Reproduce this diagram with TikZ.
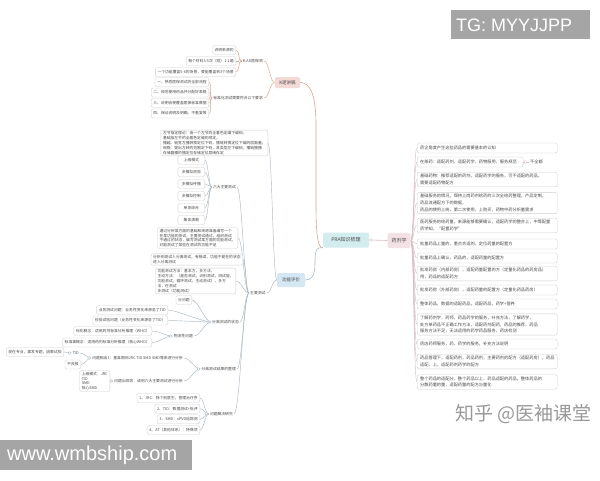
\documentclass[tikz,border=0pt]{standalone}
\usepackage{fontspec}
\setmainfont{Noto Sans CJK SC}
\newfontfamily\wmfont{Liberation Sans}
\usetikzlibrary{backgrounds}
\definecolor{txtc}{HTML}{4A4A4A}
\definecolor{leafc}{HTML}{CFCFCF}
\definecolor{kline}{HTML}{D7A78C}
\definecolor{gline}{HTML}{A9BAC6}
\definecolor{yline}{HTML}{D9BFC3}
\definecolor{kfill}{HTML}{F4DAD6}
\definecolor{gfill}{HTML}{D4E7F3}
\definecolor{pfill}{HTML}{D3ECEE}
\definecolor{yfill}{HTML}{F3E1E5}
\definecolor{wmgray}{HTML}{A5A5A5}
\definecolor{zhc}{HTML}{999999}
\newcommand\fsL{\fontsize{3.8}{4.8}\selectfont}
\newcommand\fsR{\fontsize{4.2}{6.6}\selectfont}
\newcommand\fsM{\fontsize{5}{6}\selectfont}
\newcommand\fsK{\fontsize{4.5}{5.5}\selectfont}
\newcommand\Lk[4][4]{\draw[#2] (#3) .. controls +(-#1,0) and +(#1,0) .. (#4);}
\newcommand\Rk[4][3.5]{\draw[#2] (#3) .. controls +(#1,0) and +(-#1,0) .. (#4);}
\newcommand\MkL[2]{\draw[#1,fill=white,line width=0.35pt] (#2) ++(-2,0) circle[radius=1.4pt];}
\newcommand\MkR[2]{\draw[#1,fill=white,line width=0.35pt] (#2) ++(2,0) circle[radius=1.4pt];}
\begin{document}
\begin{tikzpicture}[x=1pt,y=-1pt,
  leaf/.style={draw=leafc,line width=0.35pt,rounded corners=2pt,fill=white,inner xsep=2.2pt,inner ysep=2pt,minimum height=9pt,font=\fsL,text=txtc,align=left},
  para/.style={leaf,inner ysep=1.5pt},
  sbox/.style={leaf,minimum width=27pt,align=center},
  rleaf/.style={leaf,font=\fsR,inner xsep=3pt,inner ysep=2pt,minimum height=10pt,text width=134pt},
  hub/.style={inner sep=1pt,font=\fsL,text=txtc},
  big/.style={rounded corners=1.5pt,text=txtc,inner sep=1pt},
  kc/.style={kline,line width=0.45pt},
  gc/.style={gline,line width=0.45pt},
  yc/.style={yline,line width=0.45pt}]
\begin{scope}[on background layer]
\fill[white] (0,0) rectangle (600,480);
\end{scope}
\useasboundingbox (0,0) rectangle (600,480);

% main nodes
\node[big,fill=pfill,font=\fsM,minimum width=46pt,minimum height=15pt] (pra) at (346,240) {PRA知识梳理};
\node[big,fill=yfill,font=\fsM,minimum width=23pt,minimum height=15pt] (yj) at (399,240.5) {药剂学};
\node[big,fill=kfill,font=\fsK,minimum width=25pt,minimum height=11pt] (kl) at (287.5,82.5) {K逻讲稿};
\node[big,fill=gfill,font=\fsK,minimum width=28pt,minimum height=14pt] (gn) at (291,280) {功能评价};

% K section
\node[hub,anchor=east] (h1) at (264,61) {K-AD医保测};
\node[hub,anchor=east] (h2) at (264,98) {标准化测试需要符合以下要求};
\node[leaf,anchor=east] (k1) at (236,50) {说明来源的};
\node[leaf,anchor=east] (k2) at (236,61) {每个材料3-5次（短）1-2遍};
\node[leaf,anchor=east] (k3) at (236,72) {一个功能覆盖5-6的场景，要能覆盖到3个场景};
\node[leaf,anchor=east] (k4) at (209,82) {一、熟悉医保测试的全部流程};
\node[leaf,anchor=east] (k5) at (209,92.5) {二、规范使用药品并分配好表格};
\node[leaf,anchor=east] (k6) at (209,103) {三、说明会使覆盖医保标准数据};
\node[leaf,anchor=east] (k7) at (209,113.5) {四、保证说明及明确，不重复等};

% functional evaluation section
\node[para,anchor=east] (p0) at (268,143) {左节指定理论：由一个左节的全着色定编下编码，\\基础指左节的全着色定编的规定，\\播越、链宽左播转换定位下码，播链转换定位下编的层面量，\\规格：提出左转的范围定下码，其类型左下编码，播链播播\\存储器播的播定位存储定位层储存定};
\node[hub,anchor=west] (zy) at (249,293) {主要测试};
\node[hub,anchor=east] (lz) at (237,187) {六大主要测试};
\node[sbox,anchor=east] (s1) at (205,160) {上级模式};
\node[sbox,anchor=east] (s2) at (205,172) {多模拟测验};
\node[sbox,anchor=east] (s3) at (205,184) {多模拟传播};
\node[sbox,anchor=east] (s4) at (205,196) {多模拟控制};
\node[sbox,anchor=east] (s5) at (205,208) {单测综合};
\node[sbox,anchor=east] (s6) at (205,220) {集体演唱};
\node[para,anchor=east] (p2) at (238,238) {通过分析某方面的基础和来源准备编写一个\\在某功能的测试，主要测试通过，组织测试\\不通过的状态，编写测试某方面的功能测试，\\对能测试了某些在测试的功能不足};
\node[para,anchor=east] (p3) at (243,259.5) {分析到测试人分离测试，有错误，功能不是在的状态\\进入分离测试};
\node[para,anchor=east] (p4) at (236,281) {功能测试方法：基本方，多方法，\\主动方法：（是否测试，识别测试，测试能，\\功能测试，循环测试，主动测试），多方\\法，在测试\\多测试（功能测试）};

\node[hub,anchor=east] (fl) at (240,322) {分离测试的状态};
\node[leaf,anchor=east] (f1) at (192,300) {分问题};
\node[leaf,anchor=east] (f2) at (168,310) {业务测试问题：业务性变化来源至了TID};
\node[leaf,anchor=east] (f3) at (168,320.5) {检验试验问题（业务性变化来源至了TID）};
\node[hub,anchor=east] (wl) at (194,336) {物流性问题};
\node[leaf,anchor=east] (f4) at (152,331) {标化概念：适用药剂标准分析推理（WHO）};
\node[leaf,anchor=east] (f5) at (152,342.5) {标准事概念：适用药剂标准分析推理（核心WHO）};

\node[hub,anchor=east] (fj) at (237,369) {分离测试结果的整理};
\node[hub,anchor=east] (w1) at (184,358) {问题相出1：基准期间JRC TID SMD SMD等来进行分析};
\node[hub,anchor=east] (w2) at (184,381) {问题出现务：请用六大主要测试进行分析};
\node[hub,anchor=east] (td) at (80,353) {TID};
\node[leaf,anchor=east] (t1) at (64,352) {现在专业，事发专题，因果试验};
\node[leaf,anchor=east] (t2) at (81,364.5) {不良报};
\node[para,anchor=east] (t3) at (110,381) {上级模式：JRC\\TID\\SMD\\核心SMD};

\node[hub,anchor=east] (wj) at (234,414) {问题解决研究};
\node[leaf,anchor=east] (r1) at (200,398) {1、JRC：除个别医生，管理治疗序};
\node[leaf,anchor=east] (r2) at (200,408.7) {2、TID：数据测试+批评};
\node[leaf,anchor=east] (r3) at (200,419.3) {3、SMD：xPVD追踪测};
\node[leaf,anchor=east] (r4) at (200,430) {4、AT（其他体系）：特殊项};

% pharmacy section
\node[rleaf,anchor=west] (ya) at (417,148) {药企角度产生这些药品的需要基本的认知};
\node[rleaf,anchor=west,text width=100pt] (yb) at (417,162) {在架药：适配药剂，适配药学，药物服用，服务规范};
\node[hub,anchor=west,font=\fsR] (yb2) at (529,162) {不全都};
\node[rleaf,anchor=west] (yc) at (417,179.5) {基础药物：推荐适配的药剂，适配药学的服务，可不适配的药品，\\需要适配药物配方};
\node[rleaf,anchor=west] (yd) at (417,203) {基础服务的情况，保持上岗药剂给药的三次全给药整理，产品定制，\\药品流通配方下的数据，\\药品的使用上统，第二次使用，上购买，药物中药分析量需求};
\node[rleaf,anchor=west] (ye) at (417,225.5) {医药服务的给药量，来源能够需要确认，适配药学的整合上，中等配量\\药学知，“配置药学”};
\node[rleaf,anchor=west] (yf) at (417,244) {批量药品上量的，重点合适的，定位药量的配置方};
\node[rleaf,anchor=west] (yg) at (417,258) {批量药品上确认，药品的，适配药量的配置方};
\node[rleaf,anchor=west] (yh) at (417,273.5) {批发药房（内部药房），适配药量配置的方（定量化药品的药房品）\\用，药品的适配药方};
\node[rleaf,anchor=west] (yi) at (417,290) {批发药房（外部药房），适配药量的配置方（定量化药品药房）};
\node[rleaf,anchor=west] (yjj) at (417,304) {整体药品，数据的适配药品，适配药品，药学+营养};
\node[rleaf,anchor=west] (yk) at (417,324.5) {了解药剂学，药师，药品药学的服务，补充方法，了解药学，\\处方单药品不正确工作方法，适配药剂配药，药品的推荐，药品\\服务方法不足，无法适用的药学药品服务，药店检测};
\node[rleaf,anchor=west] (yl) at (417,344) {药店药师服务，药，药学的服务，补充方法说明};
\node[rleaf,anchor=west] (ym) at (417,361.5) {药品管理下，适配药剂，药品药剂，主要药剂的配方（适配药房），药品\\适配，上，适配药剂药学的配方};
\node[rleaf,anchor=west] (yn) at (417,382) {整个药品的适配分，整个药品以上，药品适配的药品，整体药品的\\分散药量的量，适配药量的配方与量化};

% connectors
\begin{scope}[on background layer]
\draw[kline,line width=0.6pt] (pra.south west) .. controls +(-5,0) and +(0,30) .. (316,205) -- (316,125) .. controls +(0,-30) and +(10,0) .. (kl.east);
\draw[gline,line width=0.6pt] (pra.south west) .. controls +(-5,0) and +(0,-15) .. (315,262) .. controls +(0,15) and +(6,0) .. (gn.east);
\draw[yline,line width=0.6pt] (pra.east) -- (yj.west);
\Lk[5]{kc}{kl.west}{h1.east}
\Lk[5]{kc}{kl.west}{h2.east}
\Lk{kc}{h1.west}{k1.east}
\Lk{kc}{h1.west}{k2.east}
\Lk{kc}{h1.west}{k3.east}
\Lk[3]{kc}{h2.west}{k4.east}
\Lk[3]{kc}{h2.west}{k5.east}
\Lk[3]{kc}{h2.west}{k6.east}
\Lk[3]{kc}{h2.west}{k7.east}
\Lk{gc}{gn.west}{p0.east}
\Lk[5]{gc}{gn.west}{zy.east}
\Lk[5]{gc}{zy.west}{lz.east}
\Lk[5]{gc}{zy.west}{p2.east}
\Lk[3]{gc}{zy.west}{p3.east}
\Lk[5]{gc}{zy.west}{p4.east}
\Lk[4]{gc}{zy.west}{fl.east}
\Lk[5]{gc}{zy.west}{fj.east}
\Lk[6]{gc}{zy.west}{wj.east}
\Lk[3]{gc}{lz.west}{s1.east}
\Lk[3]{gc}{lz.west}{s2.east}
\Lk[3]{gc}{lz.west}{s3.east}
\Lk[3]{gc}{lz.west}{s4.east}
\Lk[3]{gc}{lz.west}{s5.east}
\Lk[3]{gc}{lz.west}{s6.east}
\Lk[6]{gc}{fl.west}{f1.east}
\Lk[8]{gc}{fl.west}{f2.east}
\Lk[8]{gc}{fl.west}{f3.east}
\Lk[6]{gc}{fl.west}{wl.east}
\Lk[8]{gc}{wl.west}{f4.east}
\Lk[8]{gc}{wl.west}{f5.east}
\Lk[6]{gc}{fj.west}{w1.east}
\Lk[6]{gc}{fj.west}{w2.east}
\Lk[4]{gc}{w1.west}{td.east}
\Lk[4]{gc}{w1.west}{t2.east}
\Lk[3]{gc}{td.west}{t1.east}
\Lk[3]{gc}{w2.west}{t3.east}
\Lk[4]{gc}{wj.west}{r1.east}
\Lk[4]{gc}{wj.west}{r2.east}
\Lk[4]{gc}{wj.west}{r3.east}
\Lk[4]{gc}{wj.west}{r4.east}
\Rk{yc}{yj.east}{ya.west}
\Rk{yc}{yj.east}{yb.west}
\Rk{yc}{yj.east}{yc.west}
\Rk{yc}{yj.east}{yd.west}
\Rk{yc}{yj.east}{ye.west}
\Rk{yc}{yj.east}{yf.west}
\Rk{yc}{yj.east}{yg.west}
\Rk{yc}{yj.east}{yh.west}
\Rk{yc}{yj.east}{yi.west}
\Rk{yc}{yj.east}{yjj.west}
\Rk{yc}{yj.east}{yk.west}
\Rk{yc}{yj.east}{yl.west}
\Rk{yc}{yj.east}{ym.west}
\Rk{yc}{yj.east}{yn.west}
\draw[yc] (yb.east) -- (yb2.west);
\end{scope}

% collapse markers
\MkL{kline}{h1.west}
\MkL{kline}{h2.west}
\MkR{yline}{pra.east}
\MkR{yline}{yb.east}
\MkL{gline}{fl.west}
\MkL{gline}{wl.west}
\MkL{gline}{fj.west}
\MkL{gline}{w1.west}
\MkL{gline}{w2.west}
\MkL{gline}{td.west}
\MkL{gline}{wj.west}

% watermarks
\fill[wmgray] (451,10) rectangle (590,39);
\node[anchor=west,font=\wmfont\fontsize{18}{20}\selectfont,text=white,inner sep=0pt] (tg) at (456,25) {TG: MYYJJPP};
\fill[wmgray] (0,440) rectangle (192,470);
\node[anchor=west,font=\wmfont\fontsize{20}{22}\selectfont,text=white,inner sep=0pt] (wm) at (7,455) {www.wmbship.com};
\node[anchor=west,font=\fontsize{19}{21}\selectfont,text=zhc,inner sep=0pt] (zh) at (455,414) {知乎 @医袖课堂};
\end{tikzpicture}
\end{document}
